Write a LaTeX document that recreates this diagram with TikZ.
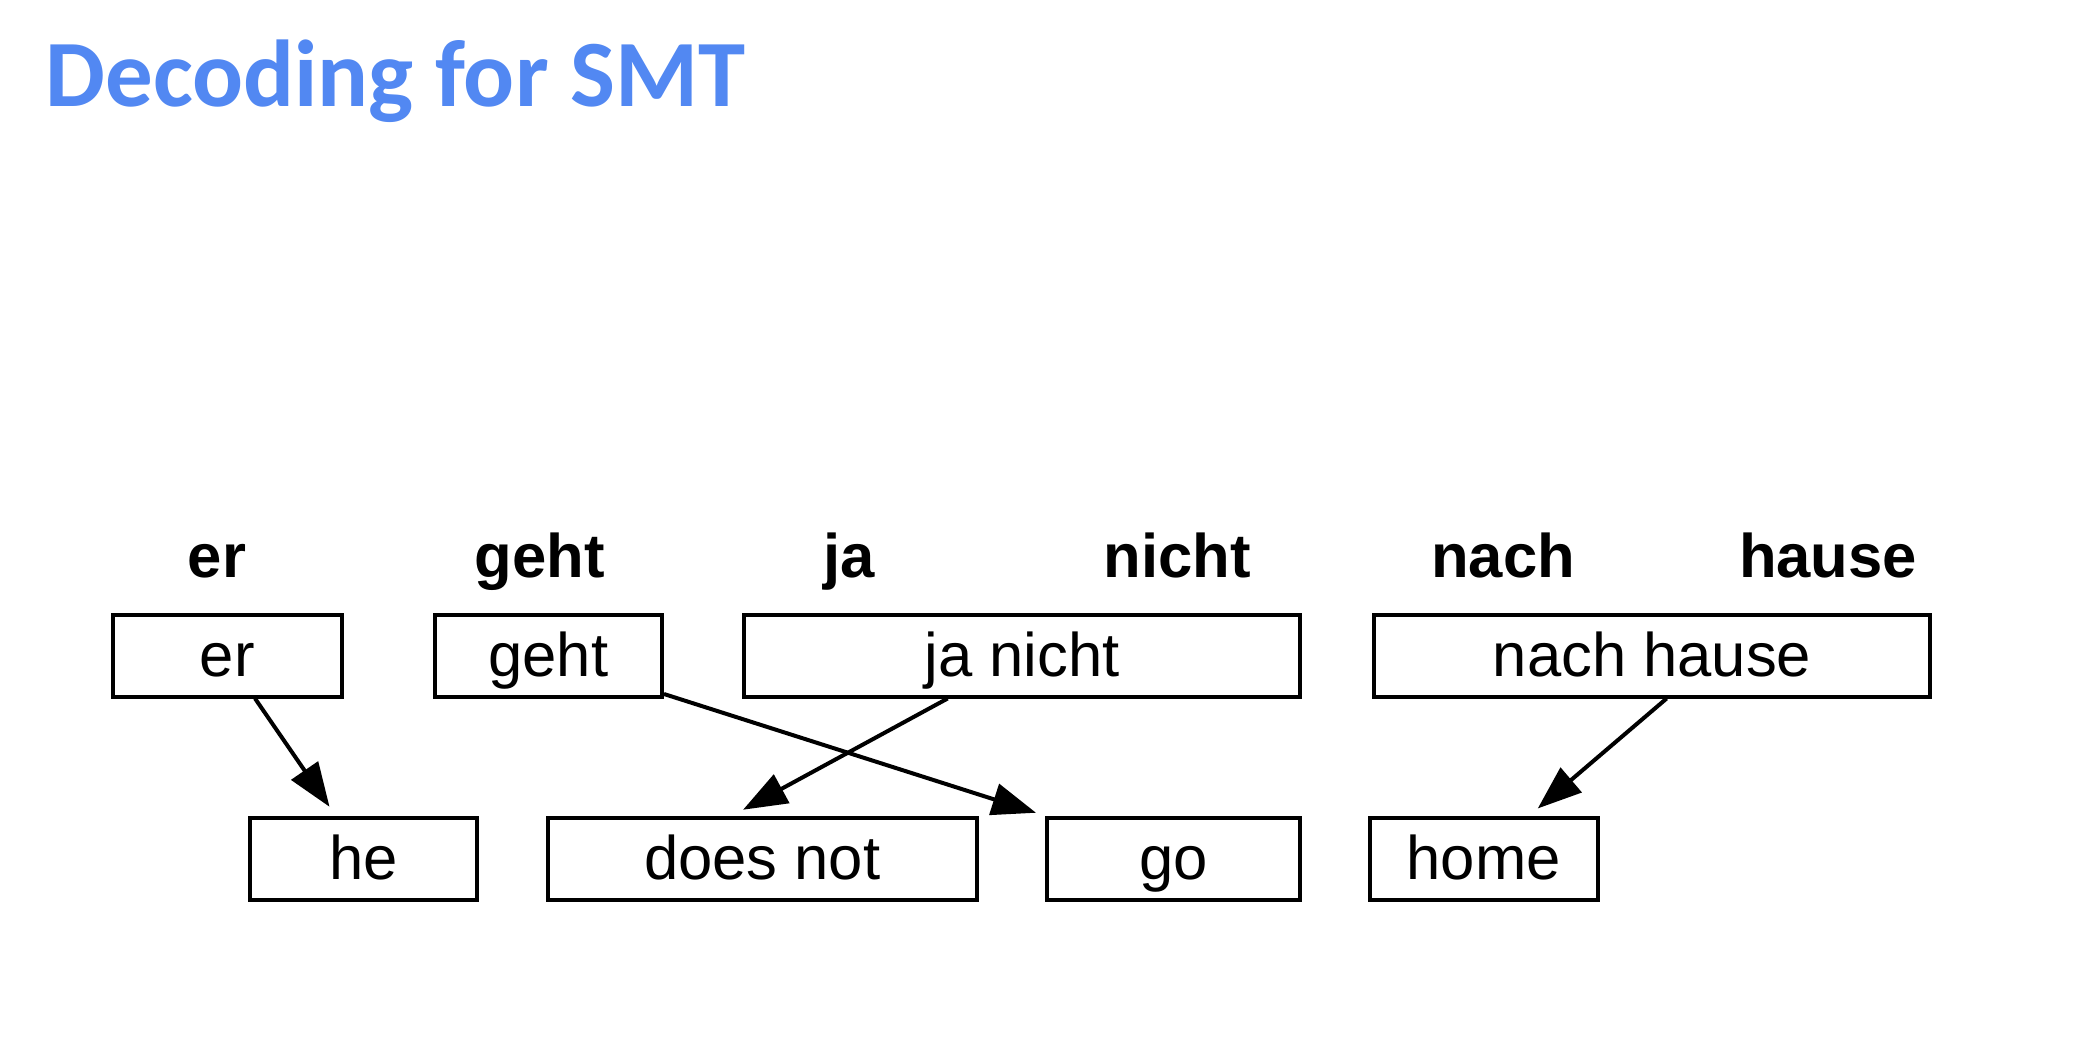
\documentclass[tikz,border=0pt]{standalone}
\usepackage{fontspec}
\setmainfont{Liberation Sans}
\newfontfamily\titlefont{Carlito}
\usetikzlibrary{arrows.meta}
\definecolor{titleblue}{RGB}{82,136,242}
\begin{document}
\begin{tikzpicture}[x=0.5pt,y=-0.5pt,
  phrase/.style={draw=black,line width=2pt,inner sep=0pt,
    font=\fontsize{30.8}{37}\selectfont,text height=22pt,text depth=1.4pt,
    minimum height=40.75pt},
  srcword/.style={anchor=base,font=\fontsize{30.8}{37}\selectfont\bfseries},
  link/.style={line width=2pt,-{Triangle[length=22pt,width=16pt]}}]
\useasboundingbox (0,0) rectangle (2084,1060);
\fill[white] (0,0) rectangle (2084,1060);
\node[anchor=base west,text=titleblue,font=\titlefont\bfseries\fontsize{47.5}{56}\selectfont,inner sep=0pt] (title) at (45,106) {Decoding for SMT};
% source words
\node[srcword] (w1) at (217,577) {er};
\node[srcword] (w2) at (540,577) {geht};
\node[srcword] (w3) at (849,577) {ja};
\node[srcword] (w4) at (1177,577) {nicht};
\node[srcword] (w5) at (1503,577) {nach};
\node[srcword] (w6) at (1828,577) {hause};
% source phrases
\node[phrase,minimum width=114.25pt] (er) at (227.25,655.75) {er};
\node[phrase,minimum width=113.7pt] (geht) at (548.3,655.75) {geht};
\node[phrase,minimum width=278pt] (janicht) at (1022,655.75) {ja nicht};
\node[phrase,minimum width=278pt] (nachhause) at (1652,655.75) {nach hause};
% target phrases
\node[phrase,minimum width=113.5pt] (he) at (363.5,859.2) {he};
\node[phrase,minimum width=214.75pt] (doesnot) at (762.25,859.2) {does not};
\node[phrase,minimum width=126.5pt] (go) at (1173.5,859.2) {go};
\node[phrase,minimum width=113.75pt] (home) at (1483.75,859.2) {home};
% links
\draw[link] ([xshift=13.9pt]er.south) -- ([xshift=-17pt,yshift=4.85pt]he.north);
\draw[link] ([yshift=2.25pt]geht.south east) -- ([xshift=-4.5pt,yshift=1.85pt]go.north west);
\draw[link] ([xshift=-37.2pt]janicht.south) -- ([xshift=-9.6pt,yshift=3.35pt]doesnot.north);
\draw[link] ([xshift=7.3pt]nachhause.south) -- ([xshift=27pt,yshift=4pt]home.north);
\end{tikzpicture}
\end{document}
